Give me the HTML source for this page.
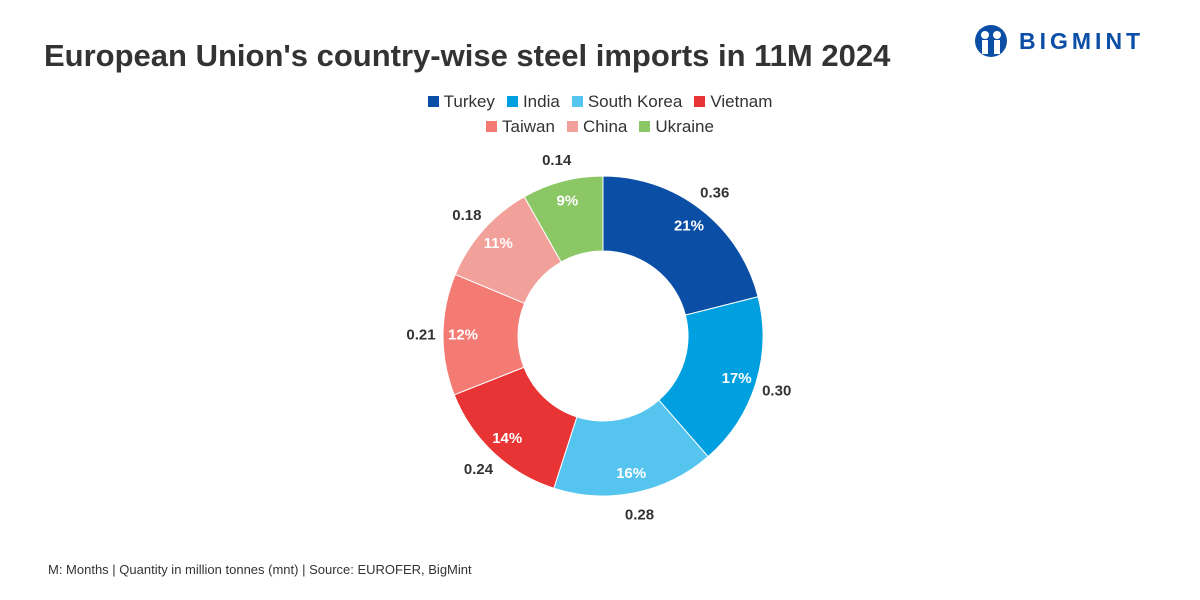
<!DOCTYPE html>
<html><head><meta charset="utf-8"><style>
body{margin:0;width:1200px;height:600px;background:#fff;font-family:"Liberation Sans",sans-serif;overflow:hidden;position:relative}
.t{position:absolute;left:44px;top:38px;font-size:31px;font-weight:bold;color:#333}
.leg{position:absolute;left:0;width:1200px;text-align:center;font-size:17px;color:#333}
.leg span{margin:0 6px}.leg i{display:inline-block;width:11px;height:11px;margin-right:5px}
.logo{position:absolute;left:973px;top:24px;display:flex;align-items:center}
.src{position:absolute;left:48px;top:562px;font-size:13px;color:#333}
</style></head><body>
<div class="t">European Union's country-wise steel imports in 11M 2024</div>
<div class="logo">
<svg width="36" height="34" viewBox="0 0 36 34"><circle cx="18" cy="17" r="16" fill="#0a4ea6"/><circle cx="12" cy="11" r="4" fill="#fff"/><circle cx="24" cy="11" r="4" fill="#fff"/><rect x="9" y="16" width="6" height="14" fill="#fff"/><rect x="21" y="16" width="6" height="14" fill="#fff"/></svg>
<span style="font-size:23px;font-weight:bold;color:#0a4ea6;letter-spacing:4px;margin-left:10px">BIGMINT</span></div>
<div class="leg" style="top:92px">
<span><i style="background:#0a4ea6"></i>Turkey</span><span><i style="background:#00a0e0"></i>India</span><span><i style="background:#55c5f0"></i>South Korea</span><span><i style="background:#e83434"></i>Vietnam</span></div>
<div class="leg" style="top:117px">
<span><i style="background:#f37b73"></i>Taiwan</span><span><i style="background:#f2a09a"></i>China</span><span><i style="background:#8cc765"></i>Ukraine</span></div>
<svg id="c" width="1200" height="600" style="position:absolute;left:0;top:0"></svg>
<div class="src">M: Months | Quantity in million tonnes (mnt) | Source: EUROFER, BigMint</div>
<script>
const categories=["Turkey","India","South Korea","Vietnam","Taiwan","China","Ukraine"];
const values=[0.36,0.30,0.28,0.24,0.21,0.18,0.14];
const percents=[21,17,16,14,12,11,9];
const colors=["#0a4ea6","#00a0e0","#55c5f0","#e83434","#f37b73","#f2a09a","#8cc765"];
const svg=document.getElementById('c'),NS="http://www.w3.org/2000/svg";
const cx=603,cy=336,R=160,r=85;
const total=values.reduce((a,b)=>a+b,0);
function pt(a,rad){return [cx+rad*Math.sin(a),cy-rad*Math.cos(a)];}
let acc=0;
values.forEach((v,i)=>{
 const a0=acc/total*2*Math.PI;acc+=v;const a1=acc/total*2*Math.PI;const lg=a1-a0>Math.PI?1:0;
 const [x0,y0]=pt(a0,R),[x1,y1]=pt(a1,R),[x2,y2]=pt(a1,r),[x3,y3]=pt(a0,r);
 const p=document.createElementNS(NS,'path');
 p.setAttribute('d',`M${x0},${y0}A${R},${R} 0 ${lg} 1 ${x1},${y1}L${x2},${y2}A${r},${r} 0 ${lg} 0 ${x3},${y3}Z`);
 p.setAttribute('fill',colors[i]);p.setAttribute('stroke','#fff');p.setAttribute('stroke-width','1');
 
 
 svg.appendChild(p);
 const am=(a0+a1)/2;
 const [px,py]=pt(am,140);
 const t=document.createElementNS(NS,'text');
 t.setAttribute('x',px);t.setAttribute('y',py+5);t.setAttribute('text-anchor','middle');
 t.setAttribute('font-size','15');t.setAttribute('font-weight','bold');t.setAttribute('fill','#fff');
 t.textContent=percents[i]+'%';
 
 
 svg.appendChild(t);
 const [vx,vy]=pt(am,182);
 const l=document.createElementNS(NS,'text');
 l.setAttribute('x',vx);l.setAttribute('y',vy+5);l.setAttribute('text-anchor','middle');
 l.setAttribute('font-size','15');l.setAttribute('font-weight','bold');l.setAttribute('fill','#333');
 l.textContent=v.toFixed(2);
 
 
 svg.appendChild(l);
});
</script>
</body></html>
